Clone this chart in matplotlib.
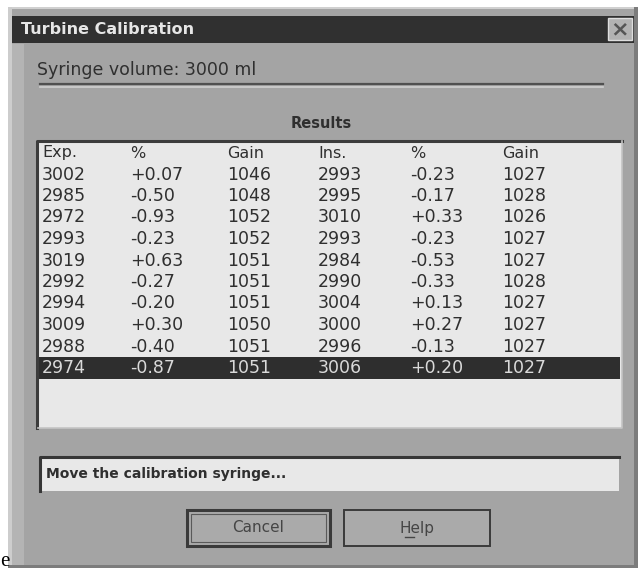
import matplotlib

matplotlib.use("Agg")
import matplotlib.pyplot as plt
from matplotlib import font_manager
from matplotlib.patches import Rectangle

# Table contents of the calibration dialog
exp_vals = ["3002", "2985", "2972", "2993", "3019", "2992", "2994", "3009", "2988", "2974"]
exp_pct = ["+0.07", "-0.50", "-0.93", "-0.23", "+0.63", "-0.27", "-0.20", "+0.30", "-0.40", "-0.87"]
exp_gain = ["1046", "1048", "1052", "1052", "1051", "1051", "1051", "1050", "1051", "1051"]
ins_vals = ["2993", "2995", "3010", "2993", "2984", "2990", "3004", "3000", "2996", "3006"]
ins_pct = ["-0.23", "-0.17", "+0.33", "-0.23", "-0.53", "-0.33", "+0.13", "+0.27", "-0.13", "+0.20"]
ins_gain = ["1027", "1028", "1026", "1027", "1027", "1028", "1027", "1027", "1027", "1027"]
headers = ["Exp.", "%", "Gain", "Ins.", "%", "Gain"]
selected_row = 9

title = "Turbine Calibration"
volume_label = "Syringe volume: 3000 ml"
group_label = "Results"
status_msg = "Move the calibration syringe..."
buttons = ["Cancel", "Help"]

installed = {f.name for f in font_manager.fontManager.ttflist}
narrow = next((n for n in ("DejaVu Sans Condensed", "Liberation Sans Narrow") if n in installed),
              "DejaVu Sans")

W, H = 643, 571
fig = plt.figure(figsize=(W / 100, H / 100), dpi=100)
ax = fig.add_axes([0, 0, 1, 1])
ax.set_xlim(0, W)
ax.set_ylim(H, 0)
ax.axis("off")

body = "#a4a4a4"
ink = "#2f2f2f"
paper = "#e8e8e8"


def box(x0, y0, x1, y1, **kw):
    ax.add_patch(Rectangle((x0, y0), x1 - x0, y1 - y0, **kw))


# page and dialog frame
box(0, 0, W, H, facecolor="white", edgecolor="none")
box(8, 7, 638, 568, facecolor=body, edgecolor="none")
box(8, 7, 638, 9, facecolor="#d0d0d0", edgecolor="none")
box(8, 7, 12, 568, facecolor="#cdcdcd", edgecolor="none")
box(634, 7, 638, 568, facecolor="#7c7c7c", edgecolor="none")
box(8, 565, 638, 568, facecolor="#7c7c7c", edgecolor="none")
box(12, 44, 24, 565, facecolor="#b4b4b4", edgecolor="none")

# title bar
box(12, 16, 634, 43, facecolor="#303030", edgecolor="none")
ax.text(21, 30, title, color="#e6e6e6", fontsize=11.5, fontweight="bold",
        ha="left", va="center")
box(608, 18, 632, 40, facecolor="#b2b2b2", edgecolor="#dedede", linewidth=1)
ax.text(620, 29, "×", color="#555555", fontsize=16, fontweight="bold",
        ha="center", va="center")

# syringe volume + separator
ax.text(37, 70, volume_label, color=ink, fontsize=12.5, ha="left", va="center")
ax.plot([40, 603], [84, 84], color="#505050", linewidth=1.6)
ax.plot([40, 603], [86.5, 86.5], color="#d0d0d0", linewidth=1.2)

ax.text(321, 124, group_label, color=ink, fontsize=10.5, fontweight="bold",
        ha="center", va="center")

# list box
box(37, 141, 622, 428, facecolor=paper, edgecolor="none")
ax.plot([37, 37, 622], [428, 141, 141], color="#3c3c3c", linewidth=2.2)
ax.plot([38, 622, 622], [428, 428, 141], color="#c4c4c4", linewidth=1.2)

col_x = [42, 130, 227, 318, 410, 502]
row_y0, row_h = 153, 21.5
for x, h in zip(col_x, headers):
    ax.text(x, row_y0, h, color=ink, fontsize=11.5, family=narrow,
            ha="left", va="center")

columns = [exp_vals, exp_pct, exp_gain, ins_vals, ins_pct, ins_gain]
for i in range(len(exp_vals)):
    y = row_y0 + row_h * (i + 1)
    color = ink
    if i == selected_row:
        box(39, y - 11, 620, y + 11, facecolor="#2e2e2e", edgecolor="none")
        color = "#dadada"
    for x, col in zip(col_x, columns):
        ax.text(x, y, col[i], color=color, fontsize=12.5, family=narrow,
                ha="left", va="center")

# status box
box(40, 457, 619, 491, facecolor="#e8e8e8", edgecolor="none")
ax.plot([40, 40, 619], [491, 457, 457], color="#363636", linewidth=2.2)
ax.text(46, 474, status_msg, color=ink, fontsize=10, fontweight="bold",
        ha="left", va="center")

# buttons
btn_x = [(187, 330), (344, 490)]
for k, ((x0, x1), label) in enumerate(zip(btn_x, buttons)):
    box(x0, 510, x1, 546, facecolor="#aaaaaa", edgecolor="#3a3a3a",
        linewidth=2.2 if k == 0 else 1.4)
    if k == 0:
        box(x0 + 4, 514, x1 - 4, 542, facecolor="none", edgecolor="#5a5a5a",
            linewidth=0.8)
    ax.text((x0 + x1) / 2, 528, label, color="#454545", fontsize=11,
            ha="center", va="center")
ax.plot([405, 414], [537, 537], color="#454545", linewidth=1)

# stray letter from the surrounding page
ax.text(0, 561, "e", color="black", fontsize=15, family="Liberation Serif",
        ha="left", va="center")

fig.savefig("out.png", dpi=100)
